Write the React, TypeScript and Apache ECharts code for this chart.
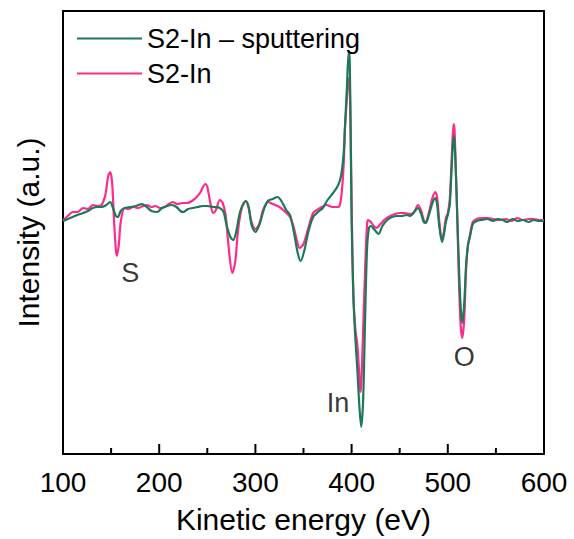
import React, { useEffect, useRef } from "react";
import * as echarts from "echarts";

// Kinetic energy (eV) and intensity (a.u., arbitrary offset) for each spectrum
const pinkEnergy = [100,105,110,115,121,126,131,136,140,144,147,149,151,153,155,156,158,160,164,168,173,178,183,187,192,196,201,206,210,214,219,224,229,234,239,243,246,248,250,253,256,259,263,266,269,272,276,279,282,286,290,293,296,300,304,308,313,318,325,330,336,340,343,346,350,355,360,364,369,374,380,386,388,390,392,393,395,397,398,399,400,401,402,404,406,408,409,410,412,414,416,417,420,423,426,430,435,440,445,450,455,461,465,469,472,475,477,480,484,487,489,491,494,496,498,500,502,504,506,507,509,511,513,515,517,519,521,523,526,530,535,541,547,554,560,566,572,578,584,589,595,600];
const pinkIntensity = [234,238,242,242,246,245,249,248,249,259,278,282,272,234,204,198,209,232,246,245,247,246,248,249,247,248,246,247,250,252,250,251,251,253,257,262,268,270,267,252,241,244,254,251,239,209,181,192,224,247,253,246,232,225,230,244,252,250,247,243,237,226,214,206,210,226,241,244,247,249,247,247,250,264,294,324,354,376,369,324,254,194,154,124,109,79,62,69,124,184,229,234,232,228,226,230,235,238,240,241,241,240,242,249,244,234,232,240,256,262,256,234,214,222,236,241,254,294,330,324,264,194,134,116,134,184,209,219,232,235,236,236,235,234,235,233,236,234,235,235,234,234];

const greenEnergy = [100,105,110,115,121,126,131,136,140,145,149,152,155,157,160,164,170,176,182,187,192,198,203,208,213,218,222,225,230,235,240,245,250,256,263,267,270,274,277,280,284,288,290,293,296,300,304,309,313,318,323,327,332,336,340,344,347,351,355,360,365,370,375,380,385,388,390,392,393,395,397,398,399,400,402,404,406,408,410,412,414,416,418,420,424,428,432,437,442,447,452,457,461,465,469,472,475,477,480,484,487,489,491,494,496,498,500,502,504,506,507,509,511,513,515,517,519,521,523,526,530,535,541,547,552,557,562,567,573,578,584,589,595,600];
const greenIntensity = [233,235,237,239,241,243,246,247,247,249,252,246,238,237,243,246,247,248,250,247,243,242,246,248,249,247,243,242,245,246,247,248,248,247,246,242,229,217,214,222,242,251,253,247,229,222,229,245,253,255,257,253,244,239,222,201,193,204,222,237,242,246,254,260,267,274,284,304,324,364,402,394,324,234,154,114,84,49,27,54,134,204,226,228,224,220,228,234,237,238,238,239,238,242,246,241,232,231,238,251,256,249,229,212,220,232,239,249,286,318,312,264,204,154,131,149,189,209,217,230,233,234,235,233,235,234,232,235,233,234,232,234,233,233];

const seriesNames = ["S2-In – sputtering", "S2-In"];
const xTicks = { min: 100, max: 600, interval: 100 };
const yRange = { min: 0, max: 443 };
const majorTickValues = [100, 200, 300, 400, 500, 600];
const minorTickValues = [150, 250, 350, 450, 550];

// Element annotations: [label, energy, intensity]
const annotations: [string, number, number][] = [
  ["S", 170, 181],
  ["In", 386, 51],
  ["O", 517, 97],
];

const FONT = "'Liberation Sans', Arial, Helvetica, sans-serif";
const INK = "#000";

export default function App() {
  const ref = useRef<HTMLDivElement>(null);
  useEffect(() => {
    if (!ref.current) return;
    const chart = echarts.init(ref.current, undefined, { renderer: "svg" });
    const toPairs = (xs: number[], ys: number[]) => xs.map((x, i) => [x, ys[i]]);
    // inward tick marks on the bottom axis: [energy, axis floor, tick length]
    const tickData = [
      ...majorTickValues.map((v) => [v, yRange.min, 10]),
      ...minorTickValues.map((v) => [v, yRange.min, 6]),
    ];
    chart.setOption({
      animation: false,
      textStyle: { fontFamily: FONT },
      grid: { left: 63, right: 30, top: 11, bottom: 85, containLabel: false },
      legend: {
        data: seriesNames,
        orient: "vertical",
        left: 72,
        top: 19,
        icon: "rect",
        itemWidth: 65,
        itemHeight: 2,
        itemGap: 6,
        selectedMode: false,
        textStyle: { fontSize: 27, lineHeight: 29, color: INK, fontFamily: FONT },
      },
      xAxis: [
        {
          type: "value",
          position: "bottom",
          min: xTicks.min,
          max: xTicks.max,
          interval: xTicks.interval,
          name: "Kinetic energy (eV)",
          nameLocation: "middle",
          nameGap: 50,
          nameTextStyle: { fontSize: 30, color: INK, fontFamily: FONT },
          axisLine: { show: true, onZero: false, lineStyle: { color: INK, width: 2 } },
          axisTick: { show: false },
          axisLabel: { fontSize: 28, color: INK, margin: 14, fontFamily: FONT },
          splitLine: { show: false },
        },
        {
          type: "value",
          position: "top",
          min: xTicks.min,
          max: xTicks.max,
          interval: xTicks.interval,
          axisLine: { show: true, onZero: false, lineStyle: { color: INK, width: 2 } },
          axisTick: { show: false },
          axisLabel: { show: false },
          splitLine: { show: false },
        },
      ],
      yAxis: [
        {
          type: "value",
          min: yRange.min,
          max: yRange.max,
          name: "Intensity (a.u.)",
          nameLocation: "middle",
          nameGap: 20,
          nameTextStyle: { fontSize: 30, color: INK, fontFamily: FONT },
          axisLine: { show: true, onZero: false, lineStyle: { color: INK, width: 2 } },
          axisTick: { show: false },
          axisLabel: { show: false },
          splitLine: { show: false },
        },
        {
          type: "value",
          position: "right",
          min: yRange.min,
          max: yRange.max,
          axisLine: { show: true, onZero: false, lineStyle: { color: INK, width: 2 } },
          axisTick: { show: false },
          axisLabel: { show: false },
          splitLine: { show: false },
        },
      ],
      series: [
        {
          name: seriesNames[1],
          type: "line",
          data: toPairs(pinkEnergy, pinkIntensity),
          showSymbol: false,
          symbol: "none",
          smooth: 0.3,
          lineStyle: { color: "#ff2a8c", width: 2.2 },
          itemStyle: { color: "#ff2a8c" },
          z: 2,
        },
        {
          name: seriesNames[0],
          type: "line",
          data: toPairs(greenEnergy, greenIntensity),
          showSymbol: false,
          symbol: "none",
          smooth: 0.3,
          lineStyle: { color: "#1b7a55", width: 2.2 },
          itemStyle: { color: "#1b7a55" },
          z: 3,
        },
        {
          type: "custom",
          silent: true,
          data: tickData,
          renderItem: (_params: any, api: any) => {
            const p = api.coord([api.value(0), api.value(1)]);
            const len = api.value(2);
            return {
              type: "line",
              shape: { x1: p[0], y1: p[1], x2: p[0], y2: p[1] - len },
              style: { stroke: INK, lineWidth: 2 },
            };
          },
          z: 5,
        },
        {
          type: "scatter",
          data: annotations.map(([t, x, y]) => ({ name: t, value: [x, y] })),
          symbolSize: 1,
          itemStyle: { color: "rgba(0,0,0,0)" },
          label: {
            show: true,
            position: "inside",
            formatter: (p: any) => p.name,
            fontSize: 27,
            color: INK,
            fontFamily: FONT,
          },
          silent: true,
          z: 4,
        },
      ],
    });
    return () => chart.dispose();
  }, []);
  return (
    <div
      ref={ref}
      style={{ position: "fixed", left: 0, top: 0, width: 574, height: 539, background: "#fff" }}
    />
  );
}
